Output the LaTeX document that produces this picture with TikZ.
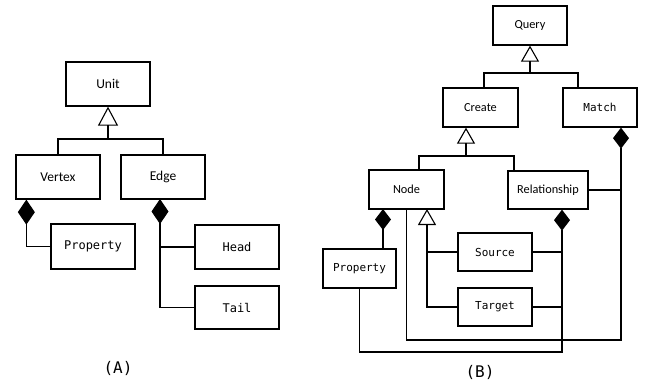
\documentclass[tikz,border=0pt]{standalone}
\usepackage{fontspec}
\setmainfont{Carlito}
\newfontfamily\monofam{DejaVu Sans Mono}
\usetikzlibrary{arrows.meta}
\tikzset{
  box/.style={draw, line width=1.3pt, rectangle, inner sep=0pt, align=center},
  conn/.style={line width=1.1pt},
  inhA/.style={conn, -{Triangle[open, width=20pt, length=19pt, line width=1.1pt]}},
  inhB/.style={conn, -{Triangle[open, width=18pt, length=16pt, line width=1.1pt]}},
  compA/.style={conn, -{Diamond[width=17pt, length=25pt]}},
  compB/.style={conn, -{Diamond[width=16pt, length=21pt]}},
  sansA/.style={font=\fontsize{13.5}{15}\selectfont},
  monoA/.style={font=\monofam\fontsize{12}{14}\selectfont},
  sansB/.style={font=\fontsize{12.3}{14}\selectfont},
  monoB/.style={font=\monofam\fontsize{11}{13}\selectfont},
  panel/.style={font=\monofam\fontsize{16}{18}\selectfont}
}
\begin{document}
\begin{tikzpicture}[x=1pt, y=-1pt]
\useasboundingbox (0,0) rectangle (645,384);
% ---------- Panel A ----------
\node[box, sansA, minimum width=84pt, minimum height=44pt] (unit) at (108,84) {Unit};
\node[box, sansA, minimum width=84pt, minimum height=44pt] (vertex) at (58,177) {Vertex};
\node[box, sansA, minimum width=84pt, minimum height=44pt] (edge) at (163,177) {Edge};
\node[box, monoA, minimum width=84pt, minimum height=45pt] (propA) at (93,246.5) {Property};
\node[box, monoA, minimum width=84pt, minimum height=44pt] (head) at (237,247) {Head};
\node[box, monoA, minimum width=84pt, minimum height=43pt] (tail) at (237,307.5) {Tail};
\coordinate (jA) at (108,139);
\coordinate (eS) at (160,199);
\draw[conn] (vertex.north) |- (jA) -| (edge.north);
\draw[inhA] (jA) -- (unit.south);
\draw[compA] (propA.west) -| ([xshift=11pt]vertex.south west);
\draw[compA] (tail.west) -| (eS);
\draw[conn] (head.west) -- (head.west -| eS);
\node[panel] (labA) at (118,368) {(A)};
% ---------- Panel B ----------
\node[box, sansB, minimum width=74pt, minimum height=39pt] (query) at (530,25.5) {Query};
\node[box, sansB, minimum width=75pt, minimum height=39pt] (create) at (480.5,107.5) {Create};
\node[box, monoB, minimum width=74pt, minimum height=39pt] (match) at (600,107.5) {Match};
\node[box, sansB, minimum width=75pt, minimum height=39pt] (node) at (406.5,189.5) {Node};
\node[box, sansB, minimum width=80pt, minimum height=38pt] (rel) at (548,190) {Relationship};
\node[box, monoB, minimum width=73pt, minimum height=39pt] (propB) at (359.5,268.5) {Property};
\node[box, monoB, minimum width=74pt, minimum height=38pt] (source) at (495,252) {Source};
\node[box, monoB, minimum width=74pt, minimum height=38pt] (target) at (495,307) {Target};
% Query inheritance
\coordinate (jB1) at (530,73);
\draw[conn] ([xshift=3.5pt]create.north) |- (jB1) -| ([xshift=-22pt]match.north);
\draw[inhB] (jB1) -- (query.south);
% Create inheritance
\coordinate (jB2) at (466,156);
\draw[conn] ([xshift=12.5pt]node.north) |- (jB2) -| ([xshift=-34pt]rel.north);
\draw[inhB] (jB2) -- (jB2 |- create.south);
% Match composition
\coordinate (mB) at (621,340);
\draw[compB] (node.south) |- (mB) -- (mB |- match.south);
\draw[conn] (rel.east) -- (rel.east -| mB);
% Node composition of Property
\coordinate (nd) at (383,209);
\draw[compB] (propB.north -| nd) -- (nd);
% Node inheritance from Source / Target
\coordinate (ni) at (427,209);
\draw[inhB] (target.west) -| (ni);
\draw[conn] (source.west) -- (source.west -| ni);
% Relationship composition
\coordinate (rc) at (562,352);
\draw[compB] (propB.south) |- (rc) -- (rc |- rel.south);
\draw[conn] (source.east) -- (source.east -| rc);
\draw[conn] (target.east) -- (target.east -| rc);
\node[panel] (labB) at (480,372) {(B)};
\end{tikzpicture}
\end{document}
